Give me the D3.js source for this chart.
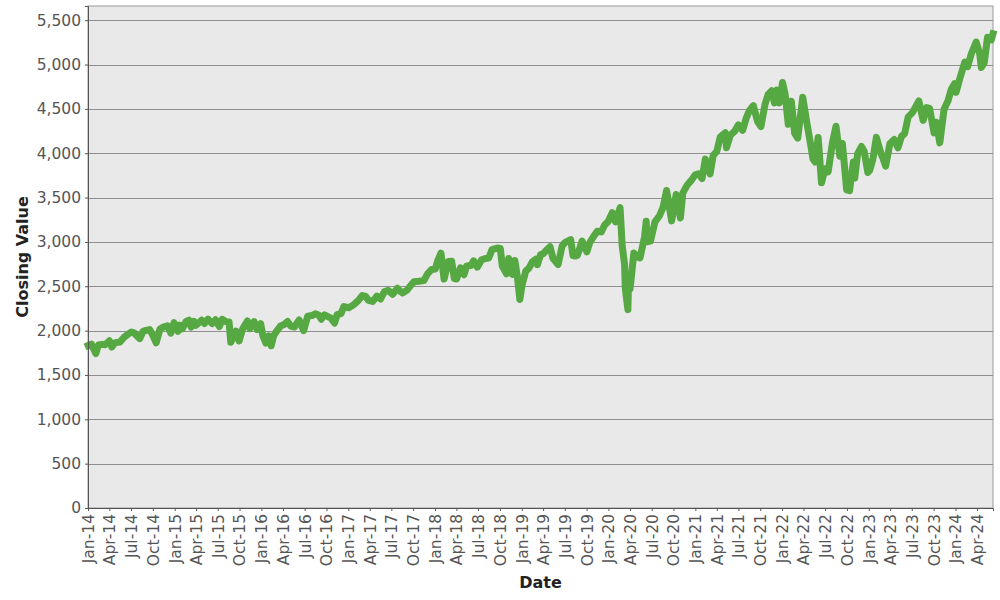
<!DOCTYPE html>
<html>
<head>
<meta charset="utf-8">
<script src="https://cdn.jsdelivr.net/npm/d3@7"></script>
<style>
  html, body { margin: 0; padding: 0; background: #ffffff; }
  svg { display: block; }
  text { font-family: "DejaVu Sans", Verdana, sans-serif; }
</style>
</head>
<body>
<svg id="chart" width="1000" height="600"></svg>
<script>
const dates = [
"2014-01-02","2014-01-15","2014-02-03","2014-02-14","2014-03-03","2014-03-14","2014-04-01","2014-04-11","2014-04-25","2014-05-15","2014-06-02","2014-06-20","2014-07-03","2014-07-15","2014-08-01","2014-08-07","2014-08-21","2014-09-02","2014-09-18","2014-10-01","2014-10-15","2014-10-31","2014-11-14","2014-12-01","2014-12-16","2014-12-29",
"2015-01-15","2015-01-22","2015-02-02","2015-02-17","2015-03-02","2015-03-11","2015-03-23","2015-04-01","2015-04-24","2015-05-06","2015-05-21","2015-06-08","2015-06-22","2015-07-08","2015-07-20","2015-08-05","2015-08-18","2015-08-25","2015-09-01","2015-09-16","2015-09-29","2015-10-15","2015-11-03","2015-11-13","2015-12-01","2015-12-14","2015-12-29",
"2016-01-07","2016-01-20","2016-02-01","2016-02-11","2016-02-22","2016-03-07","2016-03-21","2016-04-04","2016-04-20","2016-05-04","2016-05-19","2016-06-08","2016-06-27","2016-07-14","2016-08-01","2016-08-15","2016-09-01","2016-09-09","2016-09-22","2016-10-05","2016-10-20","2016-11-04","2016-11-15","2016-12-01","2016-12-13",
"2017-01-03","2017-01-26","2017-02-15","2017-03-01","2017-03-15","2017-03-27","2017-04-13","2017-05-01","2017-05-17","2017-06-02","2017-06-19","2017-07-06","2017-07-26","2017-08-10","2017-08-18","2017-09-05","2017-09-20","2017-10-05","2017-10-25","2017-11-15","2017-12-01","2017-12-18",
"2018-01-02","2018-01-12","2018-01-26","2018-02-08","2018-02-26","2018-03-12","2018-03-23","2018-04-02","2018-04-18","2018-05-03","2018-05-14","2018-06-01","2018-06-12","2018-06-28","2018-07-16","2018-08-01","2018-08-15","2018-08-29","2018-09-20","2018-10-03","2018-10-11","2018-10-29","2018-11-07","2018-11-23","2018-12-03","2018-12-14","2018-12-24",
"2019-01-02","2019-01-18","2019-02-01","2019-02-15","2019-03-01","2019-03-08","2019-03-21","2019-04-01","2019-04-15","2019-04-30","2019-05-13","2019-06-03","2019-06-20","2019-07-03","2019-07-26","2019-08-05","2019-08-14","2019-08-23","2019-09-12","2019-10-02","2019-10-15","2019-11-01","2019-11-15","2019-12-02","2019-12-16","2019-12-31",
"2020-01-17","2020-01-31","2020-02-19","2020-02-28","2020-03-09","2020-03-12","2020-03-16","2020-03-23","2020-03-26","2020-04-01","2020-04-17","2020-05-01","2020-05-13","2020-06-01","2020-06-08","2020-06-11","2020-06-26","2020-07-15","2020-08-03","2020-08-18","2020-09-02","2020-09-23","2020-10-12","2020-10-30","2020-11-09","2020-11-27","2020-12-15","2020-12-31",
"2021-01-15","2021-01-29","2021-02-12","2021-03-04","2021-03-17","2021-04-01","2021-04-16","2021-05-07","2021-05-12","2021-05-28","2021-06-15","2021-07-01","2021-07-19","2021-08-02","2021-08-16","2021-09-02","2021-09-20","2021-10-04","2021-10-21","2021-11-03","2021-11-18","2021-11-30","2021-12-10","2021-12-20",
"2022-01-03","2022-01-14","2022-01-27","2022-02-09","2022-02-23","2022-03-08","2022-03-29","2022-04-12","2022-04-29","2022-05-11","2022-05-20","2022-06-02","2022-06-16","2022-07-01","2022-07-14","2022-08-01","2022-08-16","2022-09-01","2022-09-12","2022-09-30","2022-10-12","2022-10-28","2022-11-03","2022-11-15","2022-12-01","2022-12-13","2022-12-28",
"2023-01-05","2023-01-18","2023-02-02","2023-02-22","2023-03-01","2023-03-13","2023-03-31","2023-04-18","2023-05-04","2023-05-19","2023-06-01","2023-06-16","2023-07-03","2023-07-31","2023-08-18","2023-09-01","2023-09-14","2023-10-03","2023-10-12","2023-10-27","2023-11-14","2023-12-01","2023-12-14","2023-12-28",
"2024-01-04","2024-01-19","2024-02-09","2024-02-21","2024-03-08","2024-03-28","2024-04-12","2024-04-19","2024-05-01","2024-05-15","2024-05-31","2024-06-07"
];
const closes = [
1832,1848,1742,1838,1845,1841,1885,1815,1863,1870,1925,1963,1985,1973,1925,1910,1992,2002,2011,1946,1862,2018,2039,2053,1972,2090,
1992,2063,2020,2100,2117,2040,2104,2060,2117,2080,2130,2080,2122,2046,2128,2100,2096,1868,1914,1995,1884,2023,2109,2023,2102,2012,2078,
1943,1859,1940,1829,1946,2001,2051,2066,2102,2051,2040,2119,2000,2163,2170,2190,2170,2128,2177,2160,2141,2085,2180,2191,2271,
2258,2296,2349,2396,2385,2342,2329,2388,2357,2439,2453,2409,2477,2438,2425,2457,2508,2552,2557,2564,2642,2690,
2695,2786,2873,2581,2780,2783,2588,2582,2708,2630,2730,2735,2786,2716,2798,2813,2818,2914,2931,2925,2728,2641,2814,2633,2790,2600,2351,
2510,2671,2707,2776,2804,2743,2855,2867,2906,2946,2812,2744,2954,2996,3026,2845,2840,2847,3010,2888,2996,3067,3120,3113,3191,3231,
3330,3226,3386,2954,2747,2481,2386,2237,2630,2471,2875,2831,2820,3056,3232,3002,3009,3227,3295,3390,3580,3237,3534,3270,3550,3638,3694,3756,
3768,3714,3934,3768,3975,4020,4185,4232,4063,4204,4246,4320,4258,4387,4479,4537,4358,4300,4549,4660,4704,4567,4712,4568,
4797,4663,4326,4587,4225,4171,4632,4397,4132,3935,3901,4177,3667,3825,3790,4118,4305,3967,4110,3586,3577,3901,3720,3992,4076,4019,3783,
3808,3929,4179,3991,3951,3855,4109,4154,4061,4192,4221,4410,4455,4589,4370,4515,4505,4229,4349,4117,4496,4595,4719,4783,
4688,4840,5027,4976,5124,5254,5123,4967,5018,5308,5278,5347
];
const yTickValues = [0,500,1000,1500,2000,2500,3000,3500,4000,4500,5000,5500];
const xTickFormat = "%b-%y";
const yAxisTitle = "Closing Value";
const xAxisTitle = "Date";

const parse = d3.timeParse("%Y-%m-%d");
const data = dates.map((d, i) => ({ date: parse(d), value: closes[i] }));

const margin = { top: 6, right: 7, bottom: 92, left: 88 };
const width = 1000, height = 600;
const svg = d3.select("#chart");

const ext = d3.extent(data, d => d.date);
const x = d3.scaleTime()
  .domain([d3.timeMonth.floor(ext[0]), ext[1]])
  .range([margin.left, width - margin.right]);
const y = d3.scaleLinear()
  .domain([0, 5660])
  .range([height - margin.bottom, margin.top]);

// plot background
svg.append("rect")
  .attr("x", margin.left).attr("y", margin.top)
  .attr("width", width - margin.left - margin.right)
  .attr("height", height - margin.top - margin.bottom)
  .attr("fill", "#e9e9e9")
  .attr("stroke", "#9a9a9a")
  .attr("stroke-width", 1);

// grid lines
svg.append("g")
  .selectAll("line")
  .data(yTickValues)
  .join("line")
  .attr("x1", margin.left).attr("x2", width - margin.right)
  .attr("y1", d => Math.round(y(d)) + 0.5).attr("y2", d => Math.round(y(d)) + 0.5)
  .attr("stroke", "#8f8f8f")
  .attr("stroke-width", 1);

// line
const line = d3.line().x(d => x(d.date)).y(d => y(d.value));
svg.append("path")
  .datum(data)
  .attr("fill", "none")
  .attr("stroke", "#56a842")
  .attr("stroke-width", 7)
  .attr("stroke-linejoin", "round")
  .attr("stroke-linecap", "square")
  .attr("d", line);

// y axis
const yAxis = svg.append("g")
  .attr("transform", `translate(${margin.left},0)`)
  .call(d3.axisLeft(y).tickValues(yTickValues).tickFormat(d3.format(",")).tickSize(3).tickPadding(4));
yAxis.select(".domain").attr("stroke", "#555");
yAxis.selectAll(".tick line").attr("stroke", "#555");
yAxis.selectAll(".tick text").attr("fill", "#555").style("font-size", "15.5px").style("font-family", "DejaVu Sans");

// x axis
const xAxis = svg.append("g")
  .attr("transform", `translate(0,${height - margin.bottom})`)
  .call(d3.axisBottom(x).ticks(d3.timeMonth.every(3)).tickFormat(d3.timeFormat(xTickFormat)).tickSize(3).tickPadding(4));
xAxis.select(".domain").attr("stroke", "#555");
xAxis.selectAll(".tick line").attr("stroke", "#555");
xAxis.selectAll(".tick text")
  .attr("fill", "#555")
  .style("font-size", "15.5px")
  .style("font-family", "DejaVu Sans")
  .attr("text-anchor", "end")
  .attr("dy", "0.35em")
  .attr("transform", "rotate(-90)")
  .attr("x", -6)
  .attr("y", 0);

// axis titles
svg.append("text")
  .attr("transform", `translate(28,${(margin.top + height - margin.bottom) / 2}) rotate(-90)`)
  .attr("text-anchor", "middle")
  .attr("font-weight", "bold")
  .attr("font-size", "16px")
  .attr("fill", "#222")
  .text(yAxisTitle);
svg.append("text")
  .attr("x", (margin.left + width - margin.right) / 2)
  .attr("y", 588)
  .attr("text-anchor", "middle")
  .attr("font-weight", "bold")
  .attr("font-size", "16px")
  .attr("fill", "#222")
  .text(xAxisTitle);
</script>
</body>
</html>
